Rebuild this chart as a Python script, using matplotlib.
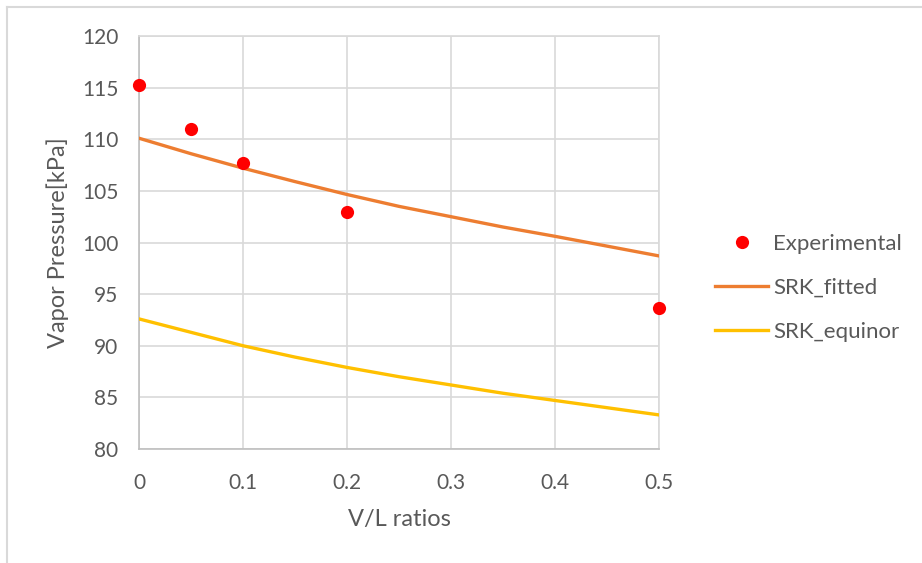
import matplotlib.pyplot as plt
from matplotlib.lines import Line2D

# measured points
exp_vl = [0.0, 0.05, 0.1, 0.2, 0.5]
exp_p = [115.25, 111.0, 107.7, 103.0, 93.7]

# model curves
model_vl = [0.0, 0.05, 0.1, 0.15, 0.2, 0.25, 0.3, 0.35, 0.4, 0.45, 0.5]
srk_fitted = [110.1, 108.6, 107.2, 105.9, 104.65, 103.5, 102.5, 101.5, 100.6, 99.65, 98.7]
srk_equinor = [92.6, 91.3, 90.0, 88.9, 87.9, 87.0, 86.2, 85.4, 84.7, 84.0, 83.3]

x_ticks = [0, 0.1, 0.2, 0.3, 0.4, 0.5]
x_labels = ["0", "0.1", "0.2", "0.3", "0.4", "0.5"]
y_ticks = [80, 85, 90, 95, 100, 105, 110, 115, 120]

text_color = "#595959"
grid_color = "#d9d9d9"
plt.rcParams["font.family"] = ["Lato", "DejaVu Sans"]

fig = plt.figure(figsize=(9.22, 5.63), dpi=100)
ax = fig.add_axes([0.1508, 0.2025, 0.564, 0.7335])

ax.plot(model_vl, srk_fitted, color="#ED7D31", lw=2.4, solid_capstyle="round", zorder=3)
ax.plot(model_vl, srk_equinor, color="#FFC000", lw=2.4, solid_capstyle="round", zorder=3)
ax.plot(exp_vl, exp_p, "o", color="#FF0000", ms=9.5, mec="none", zorder=4, clip_on=False)

ax.set_xlim(0, 0.5)
ax.set_ylim(80, 120)
ax.set_xticks(x_ticks)
ax.set_xticklabels(x_labels)
ax.set_yticks(y_ticks)
ax.grid(True, color=grid_color, lw=1.2)
ax.set_axisbelow(True)
for side in ["top", "right"]:
    ax.spines[side].set_color(grid_color)
    ax.spines[side].set_linewidth(1.2)
for side in ["left", "bottom"]:
    ax.spines[side].set_color("#bfbfbf")
    ax.spines[side].set_linewidth(1.2)
ax.tick_params(length=0, colors=text_color, labelsize=15)
ax.tick_params(axis="x", pad=17)
ax.tick_params(axis="y", pad=15)

ax.set_xlabel("V/L ratios", color=text_color, fontsize=17)
ax.set_ylabel("Vapor Pressure[kPa]", color=text_color, fontsize=17)
ax.xaxis.set_label_coords(0.5, -0.145)
ax.yaxis.set_label_coords(-0.135, 0.5)

handles = [
    Line2D([], [], ls="none", marker="o", color="#FF0000", ms=9.5, mec="none"),
    Line2D([], [], color="#ED7D31", lw=2.4),
    Line2D([], [], color="#FFC000", lw=2.4),
]
fig.legend(handles, ["Experimental", "SRK_fitted", "SRK_equinor"],
           loc="upper left", bbox_to_anchor=(0.7755, 0.585),
           frameon=False, fontsize=16, labelcolor=text_color,
           handlelength=2.4, handletextpad=0.22, labelspacing=1.08,
           borderpad=0, borderaxespad=0)

# outer chart frame (left and top edges)
fig.add_artist(Line2D([0.0076, 0.0076], [0, 0.988], color=grid_color, lw=1.5))
fig.add_artist(Line2D([0.0076, 1.0], [0.988, 0.988], color=grid_color, lw=1.5))

fig.savefig("out.png", dpi=100)
